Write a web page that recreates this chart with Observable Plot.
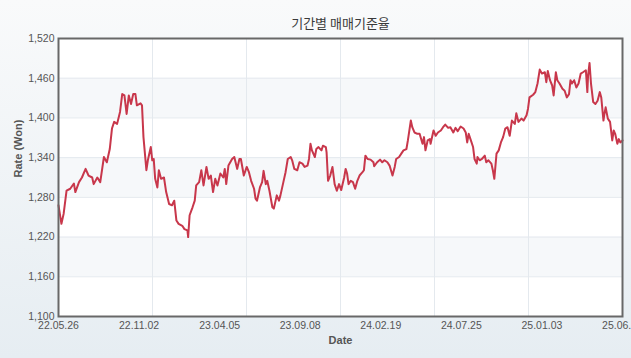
<!DOCTYPE html>
<html>
<head>
<meta charset="utf-8">
<script src="https://cdn.jsdelivr.net/npm/d3@7"></script>
<script src="https://cdn.jsdelivr.net/npm/@observablehq/plot@0.6"></script>
<style>
  html, body { margin: 0; padding: 0; width: 631px; height: 358px; overflow: hidden;
    background: linear-gradient(#f9fafb, #e6edf2); }
  #chart { width: 631px; height: 358px; }
</style>
</head>
<body>
<div id="chart"></div>
<script>
// ---- data ----
const title = "기간별 매매기준율";
const yLabel = "Rate (Won)";
const xLabel = "Date";
const tickLabels = ["22.05.26","22.11.02","23.04.05","23.09.08","24.02.19","24.07.25","25.01.03","25.06.12"];
const yTicks = [1100, 1160, 1220, 1280, 1340, 1400, 1460, 1520];
const lastDay = 770;       // trading-day index of the last observation
const gridDivisions = 6;   // vertical grid divisions

// trading-day index of each reading
const day = [0,4,7,11,16,21,23,28,32,37,41,46,48,53,57,62,66,70,73,76,80,84,87,90,93,96,99,102,105,107,112,114,116,120,122,126,128,130,132,135,137,140,144,147,151,155,158,161,164,169,172,176,177,179,183,186,188,192,195,198,202,205,208,211,214,217,221,225,227,229,232,237,240,244,247,
249,253,257,260,263,267,269,271,275,278,280,283,285,288,292,294,298,301,303,307,310,313,317,319,322,326,329,333,336,340,342,344,346,350,352,355,359,361,365,366,368,371,374,377,380,383,386,390,392,394,396,399,402,405,408,411,415,417,419,422,426,430,431,435,439,442,445,449,452,456,459,461,465,468,471,475,477,481,483,486,490,493,497,499,501,504,507,
508,512,515,518,522,525,528,532,535,539,542,545,549,553,556,558,560,563,566,568,571,572,575,578,582,584,587,591,593,595,598,601,604,607,610,613,616,619,623,625,628,632,635,639,641,643,648,651,654,657,660,664,666,668,671,674,676,679,681,684,688,691,694,697,699,701,704,707,710,713,716,720,722,723,725,727,730,733,736,739,741,744,745,747,750,753,756,758,760,763,765,767,770];

// exchange rate (won) at each reading
const rate = [1268,1240,1255,1290,1293,1301,1288,1303,1310,1323,1313,1310,1300,1310,1303,1341,1333,1353,1384,1394,1391,1409,1436,1434,1406,1434,1421,1436,1436,1419,1422,1419,1371,1321,1336,1356,1336,1338,1308,1295,1321,1308,1310,1288,1270,1268,1275,1245,1240,1237,1232,1230,1220,1253,1265,1275,1298,1303,1321,1298,1326,1308,1313,1288,1308,1298,1316,1310,1323,1300,1328,1338,1341,1323,1338,
1338,1313,1326,1318,1305,1293,1278,1275,1295,1303,1320,1300,1305,1290,1265,1263,1283,1275,1283,1303,1318,1338,1341,1336,1323,1321,1333,1331,1326,1328,1338,1361,1351,1341,1353,1356,1351,1358,1356,1348,1305,1313,1326,1300,1290,1300,1291,1310,1323,1316,1300,1305,1303,1293,1305,1313,1318,1321,1343,1338,1337,1333,1327,1333,1337,1333,1336,1333,1328,1313,1326,1338,1341,1346,1351,1353,1366,1396,1386,1378,1376,1376,1361,1371,1351,1366,1368,
1361,1381,1373,1378,1381,1386,1390,1385,1386,1378,1385,1380,1387,1384,1378,1363,1376,1366,1356,1338,1331,1341,1336,1338,1343,1333,1336,1331,1321,1308,1346,1351,1363,1371,1384,1386,1373,1396,1391,1407,1394,1399,1396,1404,1414,1431,1435,1439,1452,1473,1467,1469,1454,1471,1457,1449,1434,1469,1457,1452,1444,1441,1431,1436,1457,1452,1457,1446,1452,1467,1469,1472,1439,1464,1483,1452,1424,1421,1426,1439,1431,1396,1404,1416,1399,1394,1366,1381,1376,1361,1368,1363,1366];

// ---- derived tables ----
const series = day.map((d, i) => ({day: d, rate: rate[i]}));
const labelPos = tickLabels.map((t, i) => i * lastDay / (tickLabels.length - 1));
const gridPos = d3.range(1, gridDivisions).map(i => i * lastDay / gridDivisions);
const bands = yTicks.slice(0, -1)
  .map((v, i) => ({y1: v, y2: yTicks[i + 1], shaded: i % 2 === 1}))
  .filter(b => b.shaded);

const chart = Plot.plot({
  width: 631,
  height: 358,
  marginTop: 38,
  marginBottom: 42,
  marginLeft: 58,
  marginRight: 9,
  style: {background: "transparent", fontFamily: "'Liberation Sans', Arial, sans-serif", fontSize: "10.5px"},
  x: {domain: [0, lastDay]},
  y: {domain: [1100, 1520]},
  marks: [
    Plot.frame({fill: "white"}),
    Plot.rect(bands, {y1: "y1", y2: "y2", fill: "#f6f8fa"}),
    Plot.ruleY(yTicks, {stroke: "#e4e9ee", strokeWidth: 1}),
    Plot.ruleX(gridPos, {stroke: "#e4e9ee", strokeWidth: 1}),
    Plot.lineY(series, {x: "day", y: "rate", stroke: "#c8374b", strokeWidth: 2, strokeLinejoin: "round"}),
    Plot.frame({stroke: "#686868", strokeWidth: 2}),
    Plot.axisY(yTicks, {tickSize: 0, tickPadding: 4, tickFormat: d3.format(","), fill: "#555", label: null}),
    Plot.axisX(labelPos, {tickSize: 0, tickPadding: 5, tickFormat: d => tickLabels[labelPos.indexOf(d)], fill: "#555", label: null}),
    Plot.text([title], {frameAnchor: "top", dy: -15, lineAnchor: "middle", fontSize: 13, fill: "#3a3a3a",
      fontFamily: "'Noto Sans CJK KR', sans-serif"}),
    Plot.text([yLabel], {frameAnchor: "left", dx: -40, rotate: -90, lineAnchor: "middle", fontWeight: "bold", fontSize: 11,
      fill: "#555", style: "letter-spacing:0.8px"}),
    Plot.text([xLabel], {frameAnchor: "bottom", dy: 24, lineAnchor: "middle", fontWeight: "bold", fontSize: 11, fill: "#555"})
  ]
});
document.getElementById("chart").appendChild(chart);
</script>
</body>
</html>
